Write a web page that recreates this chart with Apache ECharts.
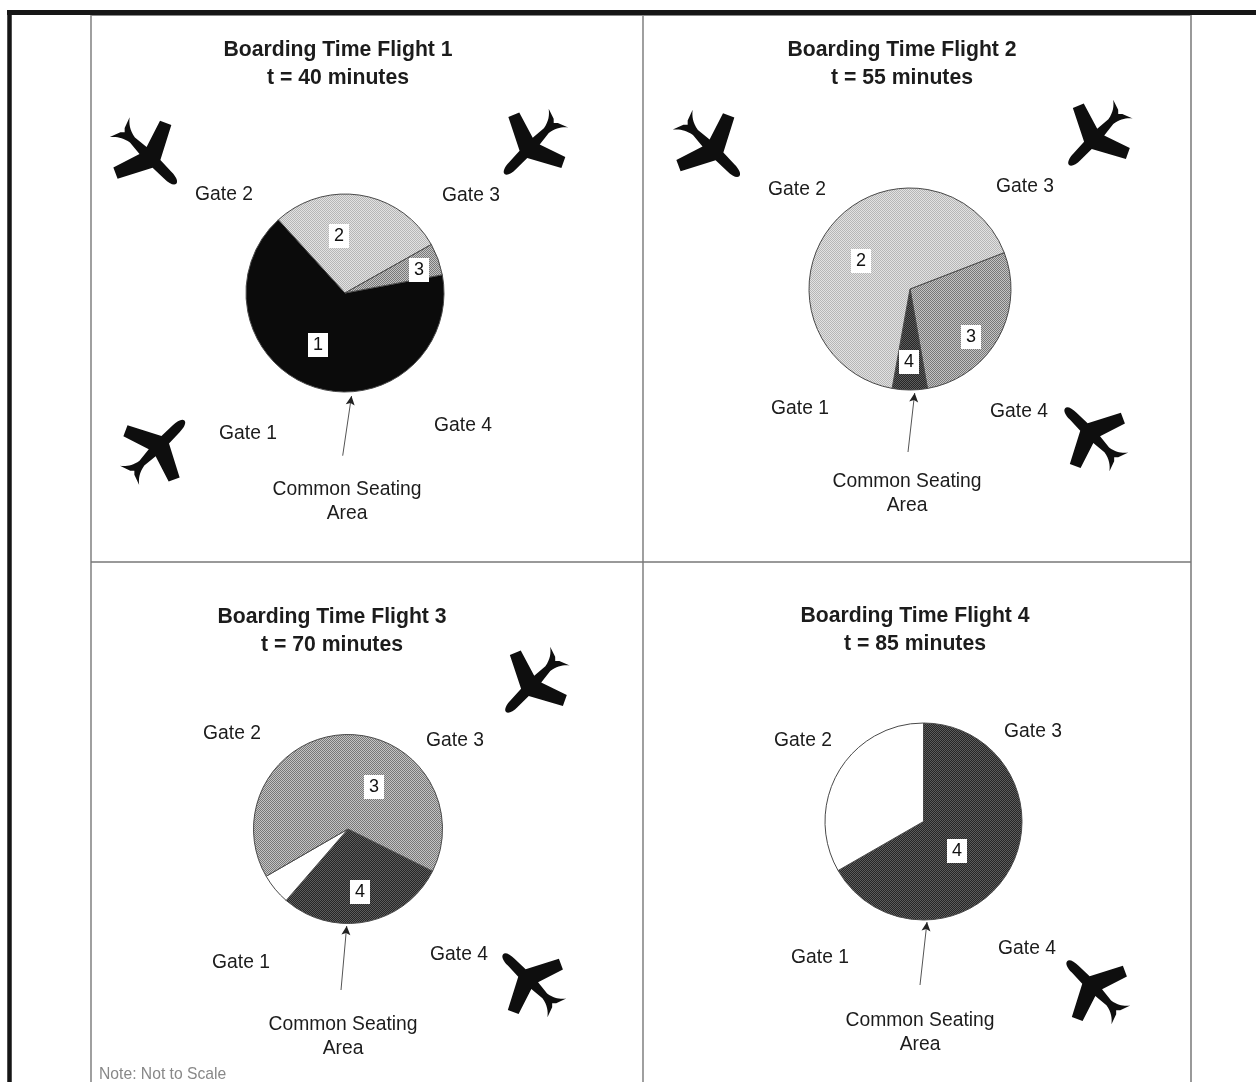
<!DOCTYPE html>
<html>
<head>
<meta charset="utf-8">
<style>html,body{margin:0;padding:0;background:#fff;overflow:hidden}#chart{width:1256px;height:1082px;filter:blur(0.45px)}</style>
<script src="https://cdn.jsdelivr.net/npm/echarts@6/dist/echarts.min.js"></script>
</head>
<body>
<div id="chart"></div>
<script>
// --- data: share of the common seating area (%) used by passengers of each flight
var boardingTimes = [40, 55, 70, 85];
var flight1Slices = ['1', '2', '3'];
var flight1Shares = [66.2, 28.6, 5.2];
var flight2Slices = ['3', '4', '2'];
var flight2Shares = [28.1, 5.6, 66.3];
var flight3Slices = ['4', 'empty', '3'];
var flight3Shares = [29.0, 5.3, 65.7];
var flight4Slices = ['4', 'empty'];
var flight4Shares = [66.7, 33.3];
var gateNames = ['Gate 1', 'Gate 2', 'Gate 3', 'Gate 4'];

// --- styles
function tile(a, b) {
  var c = document.createElement('canvas');
  c.width = 2; c.height = 2;
  var g = c.getContext('2d');
  g.fillStyle = a; g.fillRect(0, 0, 2, 2);
  g.fillStyle = b; g.fillRect(0, 0, 1, 1); g.fillRect(1, 1, 1, 1);
  return { image: c, repeat: 'repeat' };
}
var sliceFill = {
  '1': '#0b0b0b',
  '2': tile('#e2e2e2', '#b6b6b6'),
  '3': tile('#c4c4c4', '#787878'),
  '4': tile('#262626', '#5c5c5c'),
  'empty': '#ffffff'
};
var FONT = '"Liberation Sans", Arial, sans-serif';
var INK = '#1c1c1c';
var PLANE = 'M0,-40 C3,-40 5,-35 5,-28 L5.5,-12 L38,5 L33,16 L5,7 L3.5,22 C5,31 9,36 14,40 L3,36 L0,33 L-3,36 L-14,40 C-9,36 -5,31 -3.5,22 L-5,7 L-33,16 L-38,5 L-5.5,-12 L-5,-28 C-5,-35 -3,-40 0,-40 Z';

// --- layout of the four panels
var panels = [
  { slices: flight1Slices, shares: flight1Shares, center: [345, 293], r: 99, start: 10.6,
    titleX: 338, titleY: 36,
    labels: { '1': [318, 345], '2': [339, 236], '3': [419, 270] },
    gates: [[248, 434], [224, 195], [471, 196], [463, 426]],
    seat: [347, 490], arrow: [[342.7, 455.7], [351.5, 396]],
    planes: [[157, 448, 45, 0.97], [148, 155.5, 135, 1], [531.5, 146, 224, 0.97]] },
  { slices: flight2Slices, shares: flight2Shares, center: [910, 289], r: 101, start: 21.1,
    titleX: 902, titleY: 36,
    labels: { '2': [861, 261], '3': [971, 337], '4': [909, 362] },
    gates: [[800, 409], [797, 190], [1025, 187], [1019, 412]],
    seat: [907, 482], arrow: [[908, 452], [914.7, 393]],
    planes: [[711, 148, 135, 1], [1096, 137, 224, 0.97], [1092, 435, 315, 0.95]] },
  { slices: flight3Slices, shares: flight3Shares, center: [348, 829], r: 94.5, start: -26.5,
    titleX: 332, titleY: 603,
    labels: { '3': [374, 787], '4': [360, 892] },
    gates: [[241, 963], [232, 734], [455, 741], [459, 955]],
    seat: [343, 1025], arrow: [[341, 990], [346.7, 926]],
    planes: [[533, 684, 224, 0.97], [530, 981, 315, 0.95]] },
  { slices: flight4Slices, shares: flight4Shares, center: [923.5, 821.5], r: 98.5, start: 90,
    titleX: 915, titleY: 602,
    labels: { '4': [957, 851] },
    gates: [[820, 958], [803, 741], [1033, 732], [1027, 949]],
    seat: [920, 1021], arrow: [[920, 985], [927, 922]],
    planes: [[1094, 988, 315, 0.95]] }
];

var series = [], titles = [], graphics = [], planeRows = [];

function text(str, x, y, size, fill, align) {
  return { type: 'text', x: x, y: y, silent: true,
    style: { text: str, fill: fill || INK, font: (size || 19.3) + 'px ' + FONT,
      textAlign: align || 'center', textVerticalAlign: 'middle' } };
}
function rule(x1, y1, x2, y2, w, c) {
  return { type: 'line', silent: true, shape: { x1: x1, y1: y1, x2: x2, y2: y2 },
    style: { stroke: c, lineWidth: w } };
}

// frame
graphics.push(rule(9.5, 12, 9.5, 1082, 4.5, '#161616'));
graphics.push(rule(7, 12.5, 1256, 12.5, 5, '#161616'));
graphics.push(rule(91, 15, 91, 1082, 1.4, '#777'));
graphics.push(rule(643, 15, 643, 1082, 1.4, '#777'));
graphics.push(rule(1191, 15, 1191, 1082, 1.6, '#808080'));
graphics.push(rule(91, 15.5, 1191, 15.5, 1.2, '#888'));
graphics.push(rule(91, 562, 1191, 562, 1.4, '#777'));

panels.forEach(function (p, i) {
  titles.push({
    text: 'Boarding Time Flight ' + (i + 1) + '\nt = ' + boardingTimes[i] + ' minutes',
    left: p.titleX, top: p.titleY, textAlign: 'center', padding: 0,
    textStyle: { fontFamily: FONT, fontWeight: 'bold', fontSize: 21.2, lineHeight: 28, color: INK }
  });
  series.push({
    type: 'pie', center: p.center, radius: p.r, startAngle: p.start, clockwise: true,
    animation: false, silent: true, avoidLabelOverlap: false,
    itemStyle: { borderColor: '#4a4a4a', borderWidth: 1 },
    labelLine: { show: false },
    label: { position: 'inside', formatter: '{b}', color: '#111', fontFamily: FONT, fontSize: 18,
      backgroundColor: '#fff', padding: [4, 5, 2, 5] },
    labelLayout: function (params) {
      var name = p.slices[params.dataIndex];
      var at = p.labels[name];
      return at ? { x: at[0], y: at[1], align: 'center', verticalAlign: 'middle' } : {};
    },
    data: p.slices.map(function (name, k) {
      return {
        name: name, value: p.shares[k],
        itemStyle: { color: sliceFill[name] },
        label: { show: name !== 'empty' }
      };
    })
  });
  gateNames.forEach(function (g, k) {
    graphics.push(text(g, p.gates[k][0], p.gates[k][1]));
  });
  graphics.push(text('Common Seating', p.seat[0], p.seat[1]));
  graphics.push(text('Area', p.seat[0], p.seat[1] + 24));
  var a = p.arrow[0], b = p.arrow[1];
  graphics.push(rule(a[0], a[1], b[0], b[1], 1, '#555'));
  graphics.push({ type: 'polygon', x: b[0], y: b[1], silent: true,
    rotation: -Math.atan2(b[0] - a[0], a[1] - b[1]),
    shape: { points: [[0, 0], [-4.5, 9], [0, 7], [4.5, 9]] },
    style: { fill: '#222' } });
  p.planes.forEach(function (q) { planeRows.push(q); });
});

graphics.push(text('Note: Not to Scale', 99, 1075, 15.7, '#888', 'left'));

series.push({
  type: 'custom', coordinateSystem: 'none', silent: true, animation: false,
  data: planeRows,
  renderItem: function (params, api) {
    var s = api.value(3);
    return {
      type: 'path', x: api.value(0), y: api.value(1),
      rotation: -api.value(2) * Math.PI / 180, scaleX: s, scaleY: s,
      shape: { pathData: PLANE, x: -40, y: -40, width: 80, height: 80, layout: 'center' },
      style: { fill: '#0e0e0e' }
    };
  }
});

var chart = echarts.init(document.getElementById('chart'), null, { width: 1256, height: 1082 });
chart.setOption({
  backgroundColor: '#ffffff',
  animation: false,
  title: titles,
  series: series,
  graphic: { elements: graphics }
});
</script>
</body>
</html>
